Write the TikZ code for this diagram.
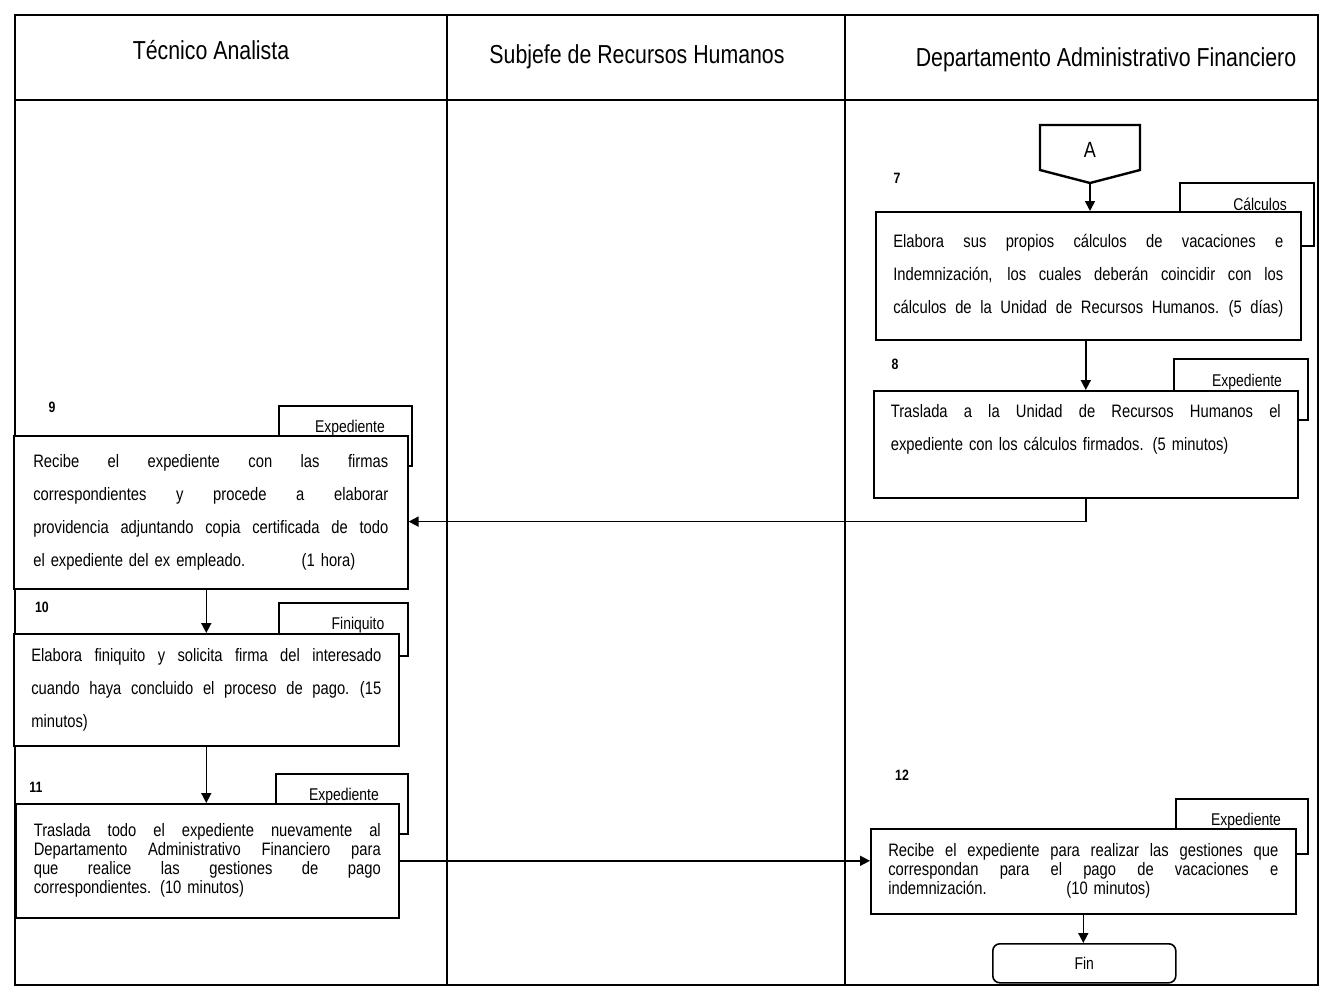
\documentclass[tikz,border=0pt]{standalone}
\usepackage{fontspec}
\setmainfont{Liberation Sans}[FakeStretch=0.82]
\usetikzlibrary{arrows.meta}
\setlength{\parindent}{0pt}
\newlength{\jw}
\newcommand\jl[1]{\makebox[\jw][s]{\spaceskip=0.25em plus 1fil\xspaceskip=0.3em plus 1fil\relax #1}}
\begin{document}
\begin{tikzpicture}[x=1pt,y=-1pt,
  ln/.style={line width=1.6pt},
  proc/.style={draw, line width=1.6pt, fill=white, inner sep=0pt, anchor=north west, align=left},
  bigtext/.style={font=\fontsize{18}{33}\selectfont},
  smalltext/.style={font=\fontsize{18}{19}\selectfont},
  doc/.style={draw, line width=1.6pt, fill=white, inner sep=0pt, anchor=north west},
  arr/.style={line width=1.6pt, -{Triangle[length=10pt,width=10pt]}},
  lab/.style={font=\fontsize{17}{20}\selectfont, inner sep=0pt},
  num/.style={font=\fontsize{15}{18}\selectfont\bfseries, inner sep=0pt},
  hdr/.style={font=\fontsize{26}{30}\selectfont, inner sep=0pt}]
\useasboundingbox (0,0) rectangle (1323,994);
\fill[white] (0,0) rectangle (1323,994);

% swimlanes
\draw[ln] (15,15) rectangle (1318,985);
\draw[ln] (15,100) -- (1318,100);
\draw[ln] (447,15) -- (447,985);
\draw[ln] (845,15) -- (845,985);
\node[hdr] (h1) at (211,50) {Técnico Analista};
\node[hdr] (h2) at (637,57) {Subjefe de Recursos Humanos};
\node[hdr] (h3) at (1106,60) {Departamento Administrativo Financiero};

% off-page connector A
\draw[ln, line width=2.4pt, fill=white] (1040,125) -- (1140,125) -- (1140,170) -- (1090,183) -- (1040,170) -- cycle;
\node[font=\fontsize{22}{26}\selectfont, inner sep=0pt] (A) at (1090,150) {A};
\coordinate (Atip) at (1090,183);

% documents
\node[doc, minimum width=134pt, minimum height=63pt] (d7) at (1179,182) {};
\node[doc, minimum width=134pt, minimum height=61pt] (d8) at (1173,358) {};
\node[doc, minimum width=133pt, minimum height=60pt] (d9) at (278,405) {};
\node[doc, minimum width=129pt, minimum height=53pt] (d10) at (278,602) {};
\node[doc, minimum width=132pt, minimum height=60pt] (d11) at (275,773) {};
\node[doc, minimum width=132pt, minimum height=55pt] (d12) at (1175,798) {};
\node[lab] (l7) at (1260,204) {Cálculos};
\node[lab] (l8) at (1247,382) {Expediente};
\node[lab] (l9) at (350,428) {Expediente};
\node[lab] (l10) at (358,625) {Finiquito};
\node[lab] (l11) at (344,796) {Expediente};
\node[lab] (l12) at (1246,821) {Expediente};

% numbers
\node[num] (n7) at (897,178) {7};
\node[num] (n8) at (895,364) {8};
\node[num] (n9) at (52,407) {9};
\node[num] (n10) at (42,607) {10};
\node[num] (n11) at (36,787) {11};
\node[num] (n12) at (902,775) {12};

% process boxes
\node[proc, bigtext, minimum width=425pt, minimum height=128pt, text width=390pt] (b7) at (875,211)
  {\setlength{\jw}{390pt}%
   \jl{Elabora sus propios cálculos de vacaciones e}\\
   \jl{Indemnización, los cuales deberán coincidir con los}\\
   \jl{cálculos de la Unidad de Recursos Humanos. (5 días)}};
\node[proc, bigtext, minimum width=424pt, minimum height=107pt, text width=390pt] (b8) at (873,390)
  {\setlength{\jw}{390pt}%
   \jl{Traslada a la Unidad de Recursos Humanos el}\\
   expediente con los cálculos firmados. (5 minutos)\\
   \mbox{}};
\node[proc, bigtext, minimum width=394pt, minimum height=153pt, text width=355pt] (b9) at (13,435)
  {\setlength{\jw}{355pt}%
   \jl{Recibe el expediente con las firmas}\\
   \jl{correspondientes y procede a elaborar}\\
   \jl{providencia adjuntando copia certificada de todo}\\
   \makebox[322pt][l]{el expediente del ex empleado.\hfill(1 hora)}};
\node[proc, bigtext, minimum width=385pt, minimum height=112pt, text width=350pt] (b10) at (13,633)
  {\setlength{\jw}{350pt}%
   \jl{Elabora finiquito y solicita firma del interesado}\\
   \jl{cuando haya concluido el proceso de pago. (15}\\
   minutos)};
\node[proc, smalltext, minimum width=383pt, minimum height=114pt, text width=347pt] (b11) at (15,803)
  {\setlength{\jw}{347pt}%
   \jl{Traslada todo el expediente nuevamente al}\\
   \jl{Departamento Administrativo Financiero para}\\
   \jl{que realice las gestiones de pago}\\
   correspondientes. (10 minutos)};
\node[proc, smalltext, minimum width=425pt, minimum height=85pt, text width=390pt] (b12) at (870,828)
  {\setlength{\jw}{390pt}%
   \jl{Recibe el expediente para realizar las gestiones que}\\
   \jl{correspondan para el pago de vacaciones e}\\
   \makebox[262pt][l]{indemnización.\hfill(10 minutos)}};
\node[proc, font=\fontsize{17}{20}\selectfont, align=center, minimum width=183pt, minimum height=39pt, rounded corners=7pt] (fin) at (992,943) {Fin};

% connectors
\draw[arr] (Atip) -- (Atip |- b7.north);
\draw[arr] (b8.north |- b7.south) -- (b8.north);
\draw[arr] (b8.south) -- ++(0,23) coordinate (t89) -- (t89 -| b9.east);
\draw[arr] (b10.north |- b9.south) -- (b10.north);
\draw[arr] (b10.south) -- (b10.south |- b11.north);
\draw[arr] (b11.east) -- (b11.east -| b12.west);
\draw[arr] (b12.south) -- (b12.south |- fin.north);
\end{tikzpicture}
\end{document}
